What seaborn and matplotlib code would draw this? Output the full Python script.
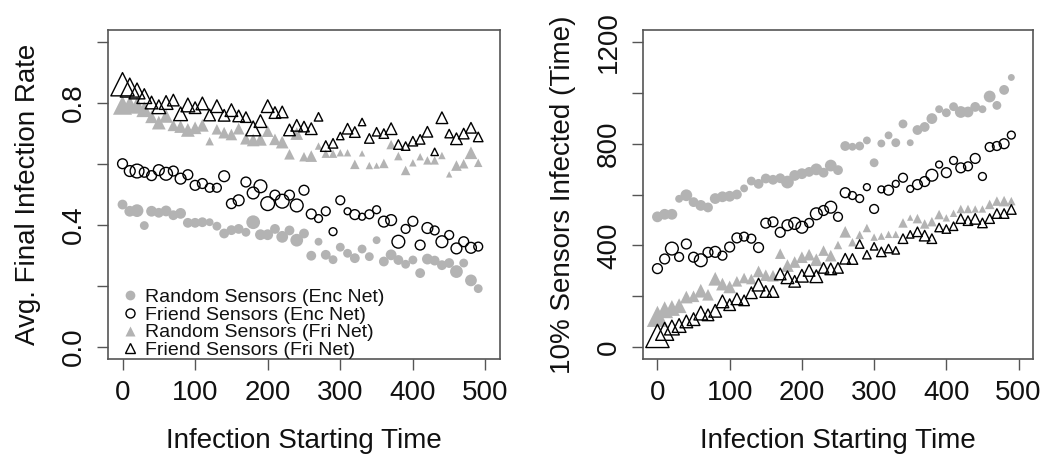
import numpy as np
import pandas as pd
import matplotlib
matplotlib.use("Agg")
import matplotlib.pyplot as plt
from matplotlib.lines import Line2D
import seaborn as sns

# ---------------- data ----------------
start_time = list(range(0, 500, 10))

# Left panel: average final infection rate
rate_random_enc = [0.467, 0.445, 0.447, 0.398, 0.445, 0.440, 0.446, 0.432, 0.438, 0.407,
                   0.407, 0.409, 0.409, 0.396, 0.372, 0.383, 0.387, 0.376, 0.409, 0.368,
                   0.368, 0.387, 0.361, 0.382, 0.350, 0.372, 0.299, 0.345, 0.302, 0.286,
                   0.327, 0.307, 0.291, 0.321, 0.296, 0.350, 0.280, 0.302, 0.285, 0.271,
                   0.285, 0.242, 0.288, 0.283, 0.268, 0.275, 0.247, 0.275, 0.218, 0.191]
rate_friend_enc = [0.601, 0.577, 0.577, 0.573, 0.562, 0.580, 0.568, 0.577, 0.552, 0.565,
                   0.530, 0.536, 0.522, 0.522, 0.560, 0.470, 0.481, 0.541, 0.505, 0.527,
                   0.470, 0.498, 0.478, 0.498, 0.464, 0.514, 0.436, 0.421, 0.445, 0.378,
                   0.481, 0.445, 0.434, 0.427, 0.435, 0.450, 0.411, 0.416, 0.345, 0.387,
                   0.412, 0.334, 0.390, 0.382, 0.345, 0.367, 0.323, 0.345, 0.325, 0.329]
rate_random_fri = [0.793, 0.796, 0.793, 0.780, 0.755, 0.736, 0.758, 0.727, 0.723, 0.712,
                   0.719, 0.727, 0.675, 0.714, 0.703, 0.697, 0.716, 0.683, 0.679, 0.681,
                   0.708, 0.681, 0.672, 0.632, 0.700, 0.624, 0.626, 0.659, 0.634, 0.634,
                   0.637, 0.637, 0.599, 0.635, 0.595, 0.595, 0.602, 0.664, 0.626, 0.579,
                   0.604, 0.624, 0.612, 0.612, 0.628, 0.566, 0.595, 0.601, 0.637, 0.604]
rate_friend_fri = [0.862, 0.851, 0.840, 0.823, 0.802, 0.788, 0.802, 0.810, 0.765, 0.794,
                   0.785, 0.799, 0.761, 0.790, 0.760, 0.777, 0.758, 0.754, 0.717, 0.741,
                   0.790, 0.769, 0.771, 0.712, 0.727, 0.723, 0.716, 0.755, 0.659, 0.668,
                   0.692, 0.716, 0.705, 0.738, 0.684, 0.706, 0.700, 0.716, 0.664, 0.659,
                   0.675, 0.681, 0.706, 0.640, 0.752, 0.700, 0.683, 0.700, 0.719, 0.689]

# Right panel: time until 10% of sensors infected
time_random_enc = [512, 522, 522, 583, 597, 570, 557, 549, 584, 591,
                   593, 600, 624, 653, 642, 663, 658, 664, 649, 675,
                   682, 689, 699, 686, 714, 696, 791, 788, 791, 813,
                   725, 801, 833, 804, 878, 804, 854, 866, 899, 936,
                   922, 946, 925, 925, 945, 936, 986, 951, 1012, 1061]
time_friend_enc = [308, 346, 387, 354, 405, 353, 341, 372, 374, 359,
                   393, 429, 434, 426, 391, 487, 492, 451, 479, 486,
                   471, 488, 524, 537, 550, 512, 607, 596, 584, 629,
                   543, 620, 617, 642, 666, 622, 639, 651, 676, 718,
                   686, 734, 705, 711, 742, 671, 787, 791, 800, 834]
time_random_fri = [120, 146, 153, 162, 196, 199, 221, 205, 268, 247,
                   236, 258, 271, 267, 297, 282, 280, 367, 320, 334,
                   353, 363, 343, 379, 359, 401, 453, 412, 441, 468,
                   432, 436, 443, 443, 488, 509, 505, 484, 493, 521,
                   508, 526, 543, 543, 543, 543, 561, 574, 574, 574]
time_friend_fri = [43, 61, 76, 84, 100, 109, 133, 126, 142, 179,
                   166, 189, 183, 213, 245, 218, 218, 287, 274, 258,
                   280, 301, 278, 311, 307, 311, 347, 346, 405, 363,
                   396, 374, 387, 380, 426, 443, 453, 438, 426, 470,
                   464, 475, 505, 497, 504, 488, 505, 525, 525, 541]

# relative symbol sizes (cex)
cex_rate_random_enc = [1.0, 1.1, 1.3, 0.9, 1.1, 1.0, 1.1, 1.0, 1.1, 1.0,
                       1.0, 1.0, 0.8, 0.9, 1.0, 1.0, 1.0, 0.9, 1.4, 1.1,
                       1.1, 1.0, 1.2, 1.0, 1.3, 1.0, 1.0, 0.8, 1.0, 0.9,
                       0.9, 0.9, 1.0, 0.9, 0.9, 0.8, 1.0, 1.1, 1.0, 0.9,
                       0.9, 1.0, 1.1, 1.0, 1.0, 1.0, 1.3, 0.9, 1.2, 0.9]
cex_rate_friend_enc = [1.0, 1.1, 1.4, 1.0, 1.0, 1.1, 1.3, 1.0, 1.1, 1.0,
                       1.0, 1.0, 0.9, 0.9, 1.1, 1.0, 1.1, 1.0, 1.2, 1.3,
                       1.4, 1.0, 1.4, 1.0, 1.3, 1.0, 1.0, 0.8, 0.9, 0.8,
                       0.9, 0.7, 1.0, 0.7, 0.9, 0.8, 1.1, 1.1, 1.3, 0.9,
                       1.0, 1.0, 1.1, 0.9, 1.2, 0.9, 1.1, 1.0, 1.1, 0.9]
cex_rate_random_fri = [1.8, 1.6, 1.6, 1.5, 1.2, 1.3, 1.3, 1.1, 1.2, 1.3,
                       1.2, 1.2, 0.8, 1.0, 1.1, 1.1, 1.1, 1.1, 1.2, 1.2,
                       1.1, 1.1, 1.2, 1.0, 1.2, 0.9, 1.1, 0.7, 0.8, 0.8,
                       0.7, 0.7, 0.9, 0.6, 0.7, 0.6, 0.9, 0.9, 0.8, 0.9,
                       0.7, 0.7, 0.8, 0.8, 0.7, 0.6, 1.0, 0.9, 1.2, 0.8]
cex_rate_friend_fri = [2.2, 1.8, 1.5, 1.4, 1.2, 1.3, 1.3, 1.1, 1.3, 1.3,
                       1.1, 1.2, 1.1, 1.2, 1.1, 1.2, 1.1, 1.0, 1.4, 1.2,
                       1.2, 1.1, 1.1, 1.1, 1.1, 1.0, 1.1, 0.8, 1.0, 0.9,
                       0.7, 1.0, 1.0, 0.7, 0.9, 0.8, 0.9, 1.1, 0.9, 0.8,
                       0.9, 0.9, 1.0, 0.7, 1.1, 0.8, 1.1, 1.0, 1.0, 0.9]
cex_time_random_enc = [1.1, 1.1, 1.1, 0.8, 1.2, 1.0, 1.1, 1.0, 1.1, 1.1,
                       1.1, 1.0, 0.8, 0.9, 1.0, 1.0, 1.0, 1.0, 1.3, 1.1,
                       1.1, 1.0, 1.2, 1.0, 1.2, 1.0, 1.0, 0.8, 0.9, 0.8,
                       0.9, 0.8, 0.8, 0.9, 0.9, 0.7, 1.0, 1.0, 1.1, 0.8,
                       0.9, 0.9, 1.2, 1.1, 1.0, 0.8, 1.2, 0.9, 1.0, 0.7]
cex_time_friend_enc = [1.0, 1.0, 1.3, 0.9, 1.0, 1.0, 1.3, 1.0, 1.1, 0.9,
                       1.0, 1.0, 0.9, 0.9, 1.0, 1.0, 1.0, 1.0, 1.1, 1.2,
                       1.2, 0.9, 1.2, 1.0, 1.2, 0.9, 1.0, 0.8, 0.8, 0.7,
                       0.9, 0.7, 1.0, 0.7, 0.9, 0.7, 1.0, 1.0, 1.2, 0.7,
                       1.0, 0.8, 1.0, 0.9, 1.0, 0.8, 0.9, 0.9, 1.0, 0.8]
cex_time_random_fri = [2.0, 1.6, 1.5, 1.4, 1.2, 1.1, 1.3, 1.1, 1.3, 1.2,
                       1.2, 1.0, 1.0, 1.0, 1.1, 1.1, 1.1, 1.0, 1.2, 1.1,
                       1.1, 1.1, 1.2, 1.0, 1.1, 0.8, 1.1, 0.8, 0.8, 0.8,
                       0.7, 0.7, 0.7, 0.7, 0.9, 0.6, 0.9, 0.9, 0.9, 0.9,
                       0.7, 0.7, 0.8, 0.8, 0.7, 0.7, 0.9, 0.9, 1.0, 0.8]
cex_time_friend_fri = [2.2, 1.7, 1.4, 1.3, 1.2, 1.2, 1.3, 1.1, 1.2, 1.2,
                       1.1, 1.1, 1.0, 1.1, 1.2, 1.1, 1.1, 1.1, 1.2, 1.1,
                       1.2, 1.1, 1.2, 1.0, 1.1, 1.0, 1.0, 1.0, 0.8, 0.8,
                       0.7, 0.9, 0.8, 0.7, 0.9, 0.7, 0.9, 1.0, 0.9, 0.8,
                       0.8, 0.8, 0.9, 0.9, 1.0, 0.9, 0.9, 0.9, 0.9, 0.9]

legend_labels = ["Random Sensors (Enc Net)", "Friend Sensors (Enc Net)",
                 "Random Sensors (Fri Net)", "Friend Sensors (Fri Net)"]

x_label = "Infection Starting Time"
y_label_left = "Avg. Final Infection Rate"
y_label_right = "10% Sensors Infected (Time)"

# ---------------- style ----------------
sns.set_theme(style="white")
plt.rcParams["font.family"] = ["Liberation Sans", "DejaVu Sans"]

GRAY = "#b3b3b3"
CIRCLE_S = 50.0     # area (pt^2) of a cex=1 circle
TRIANGLE_S = 58.0   # area (pt^2) of a cex=1 triangle
FS = 20

W, H = 1047, 455
fig = plt.figure(figsize=(W / 100, H / 100), dpi=100)
ax1 = fig.add_axes([108 / W, 1 - 359 / H, 392 / W, 329 / H])
ax2 = fig.add_axes([643 / W, 1 - 359 / H, 390 / W, 329 / H])


def draw(ax, ys, cexs):
    styles = [
        (CIRCLE_S, dict(marker="o", color=GRAY, edgecolor="none", linewidth=0)),
        (CIRCLE_S, dict(marker="o", facecolor="none", edgecolor="black", linewidth=1.0)),
        (TRIANGLE_S, dict(marker="^", color=GRAY, edgecolor="none", linewidth=0)),
        (TRIANGLE_S, dict(marker="^", facecolor="none", edgecolor="black", linewidth=1.0)),
    ]
    for y, c, (base, st) in zip(ys, cexs, styles):
        df = pd.DataFrame({"t": start_time, "v": y})
        sizes = base * np.asarray(c) ** 2
        sns.scatterplot(data=df, x="t", y="v", ax=ax, s=sizes, legend=False, **st)


draw(ax1, [rate_random_enc, rate_friend_enc, rate_random_fri, rate_friend_fri],
     [cex_rate_random_enc, cex_rate_friend_enc, cex_rate_random_fri, cex_rate_friend_fri])
draw(ax2, [time_random_enc, time_friend_enc, time_random_fri, time_friend_fri],
     [cex_time_random_enc, cex_time_friend_enc, cex_time_random_fri, cex_time_friend_fri])

ax1.set_xlim(-20, 520)
ax1.set_ylim(-0.04, 1.04)
ax2.set_xlim(-20, 520)
ax2.set_ylim(-48, 1248)

ax1.set_yticks([0, 0.2, 0.4, 0.6, 0.8, 1.0])
ax1.set_yticklabels(["0.0", "", "0.4", "", "0.8", ""])
ax2.set_yticks([0, 200, 400, 600, 800, 1000, 1200])
ax2.set_yticklabels(["0", "", "400", "", "800", "", "1200"])

for ax, yl in [(ax1, y_label_left), (ax2, y_label_right)]:
    ax.set_xticks([0, 100, 200, 300, 400, 500])
    ax.set_xticklabels(["0", "100", "200", "300", "400", "500"])
    ax.tick_params(axis="both", which="both", direction="out", length=8, width=1,
                   color="#555555", labelsize=FS, labelcolor="#111111",
                   bottom=True, left=True)
    ax.tick_params(axis="x", pad=7)
    ax.tick_params(axis="y", pad=7, labelrotation=90)
    for lab in ax.get_yticklabels():
        lab.set_va("center")
    for sp in ax.spines.values():
        sp.set_visible(True)
        sp.set_color("#555555")
        sp.set_linewidth(1.2)
    ax.set_xlabel(x_label, fontsize=FS, color="#111111", labelpad=16)
    ax.set_ylabel(yl, fontsize=FS, color="#111111")
    wpx = ax.get_position().width * W
    ax.yaxis.set_label_coords(-67 / wpx, 0.5)
    ax.grid(False)

handles = [
    Line2D([], [], linestyle="none", marker="o", markersize=7, markerfacecolor=GRAY,
           markeredgecolor="none"),
    Line2D([], [], linestyle="none", marker="o", markersize=6.5, markerfacecolor="none",
           markeredgecolor="black", markeredgewidth=1.0),
    Line2D([], [], linestyle="none", marker="^", markersize=7, markerfacecolor=GRAY,
           markeredgecolor="none"),
    Line2D([], [], linestyle="none", marker="^", markersize=7, markerfacecolor="none",
           markeredgecolor="black", markeredgewidth=1.0),
]
leg = ax1.legend(handles, legend_labels, loc="lower left", bbox_to_anchor=(0.037, 0.0),
                 frameon=False, fontsize=14, borderpad=0, borderaxespad=0,
                 handlelength=0.8, handletextpad=0.35, labelspacing=0.0)
for t in leg.get_texts():
    t.set_color("#111111")

fig.savefig("out.png", dpi=100)
